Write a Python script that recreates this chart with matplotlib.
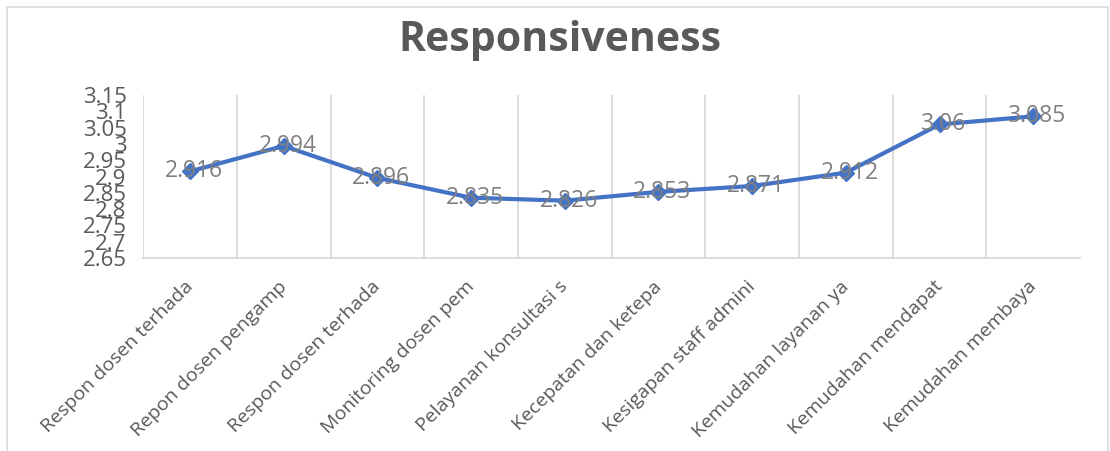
import numpy as np
import matplotlib.pyplot as plt
import matplotlib.transforms as mtransforms
from matplotlib.patches import Rectangle

plt.rcParams['font.family'] = ['Open Sans', 'DejaVu Sans']

# truncated category labels, as they appear on the axis
labels = ['Respon dosen terhada', 'Repon dosen pengamp', 'Respon dosen terhada',
          'Monitoring dosen pem', 'Pelayanan konsultasi s', 'Kecepatan dan ketepa',
          'Kesigapan staff admini', 'Kemudahan layanan ya', 'Kemudahan mendapat',
          'Kemudahan membaya']
scores = [2.916, 2.994, 2.896, 2.835, 2.826, 2.853, 2.871, 2.912, 3.06, 3.085]
yticks = [2.65, 2.7, 2.75, 2.8, 2.85, 2.9, 2.95, 3, 3.05, 3.1, 3.15]

fig = plt.figure(figsize=(11.10, 4.51), dpi=100)
ax = fig.add_axes([0.129, 0.428, 0.844, 0.361])

x = np.arange(len(scores))
ax.plot(x, scores, color='#4472C4', lw=3, marker='D', ms=8, zorder=3)

for xi, v in zip(x, scores):
    ax.text(xi + 0.04, v, f'{v:g}', ha='center', va='center',
            fontsize=16.5, color='#808080', zorder=4)

ax.set_xlim(-0.5, 9.5)
ax.set_ylim(2.65, 3.15)
ax.set_yticks(yticks)
ax.set_yticklabels([f'{t:g}' for t in yticks])
ax.tick_params(axis='y', length=0, labelsize=16, labelcolor='#595959', pad=12)

ax.set_xticks(x)
ax.set_xticklabels(labels, rotation=45, ha='right', va='top',
                   rotation_mode='anchor', fontsize=14, color='#595959')
ax.tick_params(axis='x', length=0, pad=14)
shift = mtransforms.ScaledTranslation(-6 / 100, 0, fig.dpi_scale_trans)
for lbl in ax.get_xticklabels():
    lbl.set_transform(lbl.get_transform() + shift)

# category gridlines between the points
ax.set_xticks(np.arange(-0.5, 9.0, 1.0), minor=True)
ax.tick_params(axis='x', which='minor', length=0)
ax.grid(axis='x', which='minor', color='#d9d9d9', lw=1.3)
ax.grid(axis='y', visible=False)

for s in ['top', 'right', 'left']:
    ax.spines[s].set_visible(False)
ax.spines['bottom'].set_color('#d9d9d9')
ax.spines['bottom'].set_linewidth(1.3)

fig.text(0.504, 0.91, 'Responsiveness', ha='center', va='center',
         fontsize=29.5, fontweight='bold', color='#595959')

# chart frame
fig.patches.append(Rectangle((7 / 1110, -0.05), 1101 / 1110, 1 - 7 / 451 + 0.05,
                             transform=fig.transFigure, fill=False,
                             edgecolor='#d9d9d9', lw=1.2))

fig.savefig('out.png', dpi=100)
